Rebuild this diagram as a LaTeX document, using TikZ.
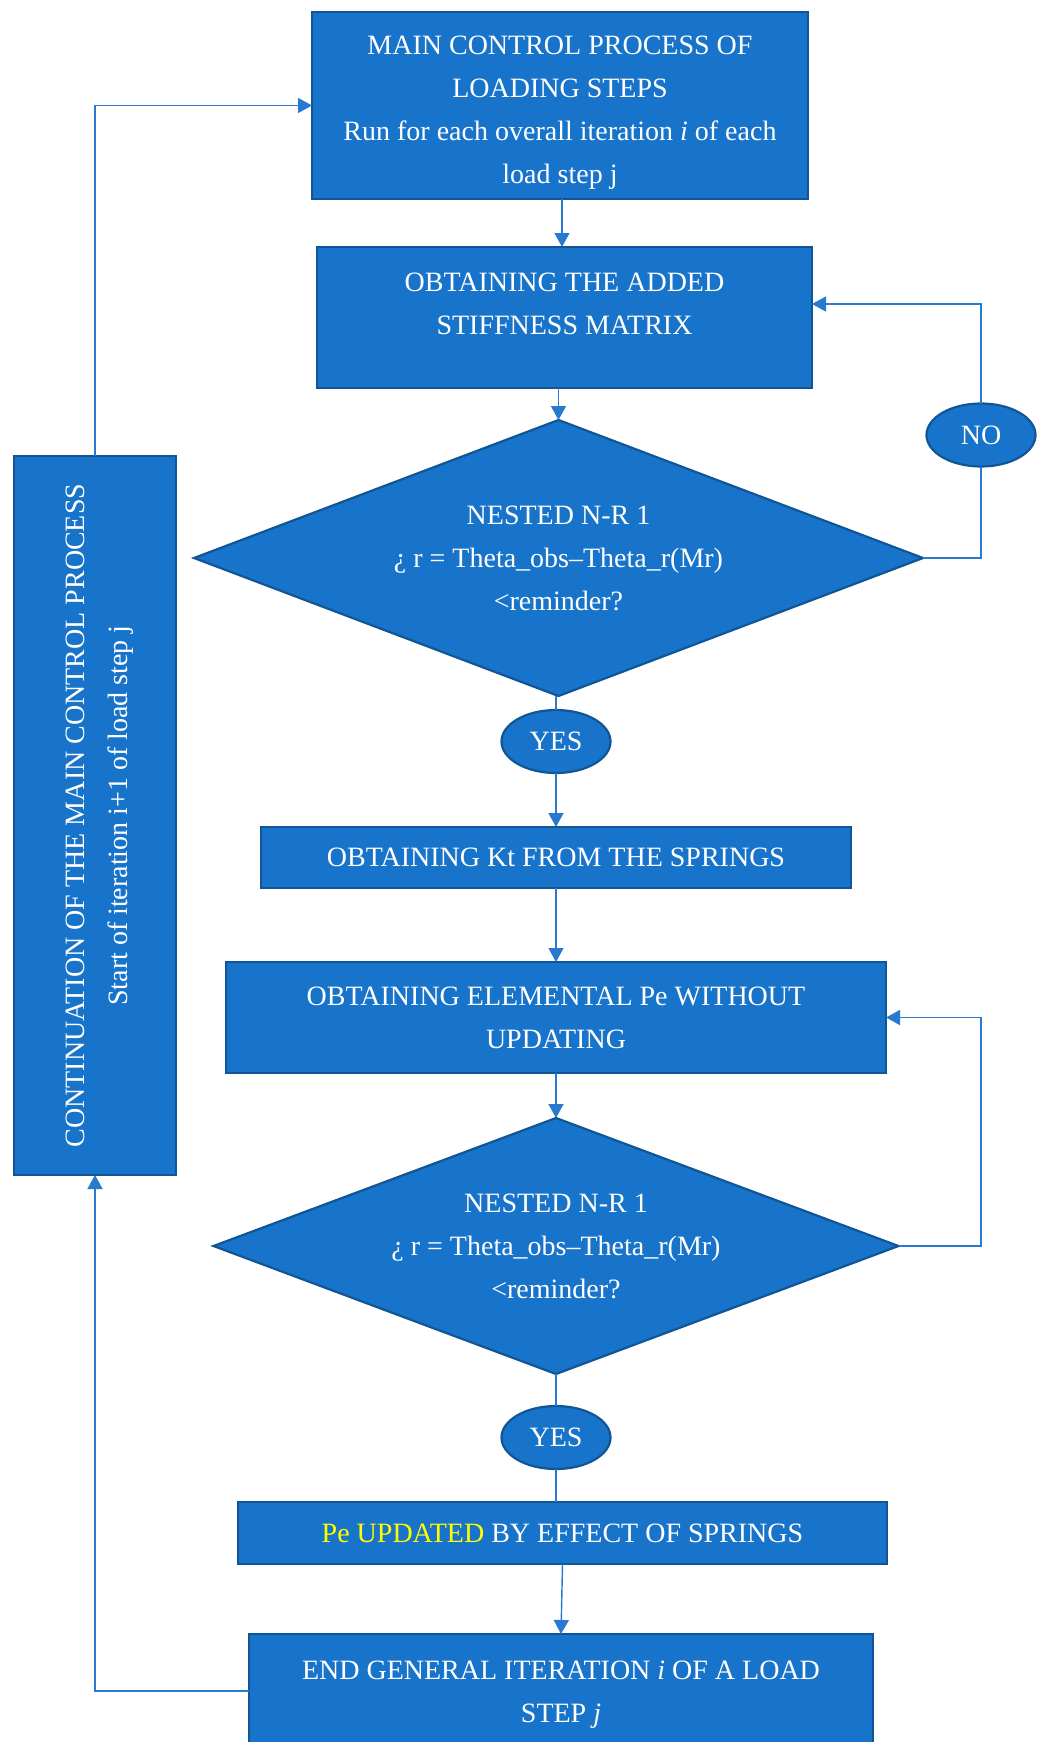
\documentclass[tikz,border=0pt]{standalone}
\usepackage{fontspec}
\setmainfont{Liberation Serif}
\usepackage{tikz}
\usetikzlibrary{positioning,arrows.meta,calc,shapes.geometric}
\definecolor{boxfill}{RGB}{24,116,202}
\definecolor{boxedge}{RGB}{16,86,150}
\definecolor{linkcol}{RGB}{40,122,206}
\definecolor{hilite}{RGB}{255,255,0}

\begin{document}
\begin{tikzpicture}[
    x=1pt, y=1pt,
    txt/.style={text=white, font=\fontsize{28}{43}\selectfont, align=center, inner sep=2pt, outer sep=0pt},
    box/.style={txt, draw=boxedge, line width=2.2pt, fill=boxfill, rectangle},
    test/.style={txt, draw=boxedge, line width=2.2pt, fill=boxfill, diamond, inner sep=0pt},
    answer/.style={txt, draw=boxedge, line width=2.2pt, fill=boxfill, ellipse, inner sep=0pt, minimum width=109pt, minimum height=63pt},
    arr/.style={-{Triangle[width=15pt,length=14pt]}, line width=1.4pt, draw=linkcol},
    lnk/.style={line width=1.4pt, draw=linkcol}
]
\useasboundingbox (0,0) rectangle (1048,-1742);

\node[box, minimum width=496pt, minimum height=187pt, text height=162pt] (main) at (560,-105.5)
    {MAIN CONTROL PROCESS OF\\LOADING STEPS\\Run for each overall iteration \textit{i} of each\\load step j};
\node[box, minimum width=495pt, minimum height=141pt, below=48pt of main, xshift=4.5pt] (stiff)
    {OBTAINING THE ADDED\\STIFFNESS MATRIX\\[-15pt]\mbox{}};
\node[test, minimum width=729pt, minimum height=276pt, aspect=2.64, below=32pt of stiff, xshift=-6pt] (nr1)
    {NESTED N-R 1\\¿ r = Theta\_obs–Theta\_r(Mr)\\<reminder?};
\node[answer, below=14pt of nr1, xshift=-2.5pt] (yes1) {YES};
\node[box, minimum width=590pt, minimum height=61pt, below=54pt of yes1] (kt)
    {OBTAINING Kt FROM THE SPRINGS};
\node[box, minimum width=660pt, minimum height=111pt, below=74pt of kt] (pe)
    {OBTAINING ELEMENTAL Pe WITHOUT\\UPDATING};
\node[test, minimum width=685pt, minimum height=256pt, aspect=2.68, below=45pt of pe] (nr2)
    {NESTED N-R 1\\¿ r = Theta\_obs–Theta\_r(Mr)\\<reminder?};
\node[answer, below=32pt of nr2] (yes2) {YES};
\node[box, minimum width=649pt, minimum height=62pt, below=33pt of yes2, xshift=6.5pt] (peupd)
    {\textcolor{hilite}{Pe UPDATED} BY EFFECT OF SPRINGS};
\node[box, minimum width=624pt, minimum height=114pt, below=70pt of peupd, xshift=-1.5pt, text height=69pt] (endit)
    {END GENERAL ITERATION \textit{i} OF A LOAD\\STEP \textit{j}};

\node[answer] (no) at (981,-435) {NO};
\node[box, rotate=90, minimum width=719pt, minimum height=162pt, text height=70pt] (cont) at (95,-815.5)
    {CONTINUATION OF THE MAIN CONTROL PROCESS\\Start of iteration i+1 of load step j};

\coordinate (back2) at (no.center |- nr2.east);

\draw[arr] (main.south -| 562,0) -- (stiff.north -| 562,0);
\draw[arr] (nr1.north |- stiff.south) -- (nr1.north);
\draw[lnk] (yes1.north |- nr1.south) -- (yes1.north);
\draw[arr] (yes1.south) -- (kt.north);
\draw[arr] (kt.south) -- (pe.north);
\draw[arr] (pe.south) -- (nr2.north);
\draw[lnk] (nr2.south) -- (yes2.north);
\draw[lnk] (yes2.south) -- (yes2.south |- peupd.north);
\draw[arr] (peupd.south) -- (endit.north);
\draw[lnk] (nr1.east) -| (no.south);
\draw[arr] (no.north) |- ([yshift=13.5pt]stiff.east);
\draw[arr] (nr2.east) -- (back2) |- (pe.east);
\draw[arr] (cont.east) |- (main.west);
\draw[arr] (endit.west) -| (cont.west);
\end{tikzpicture}
\end{document}
